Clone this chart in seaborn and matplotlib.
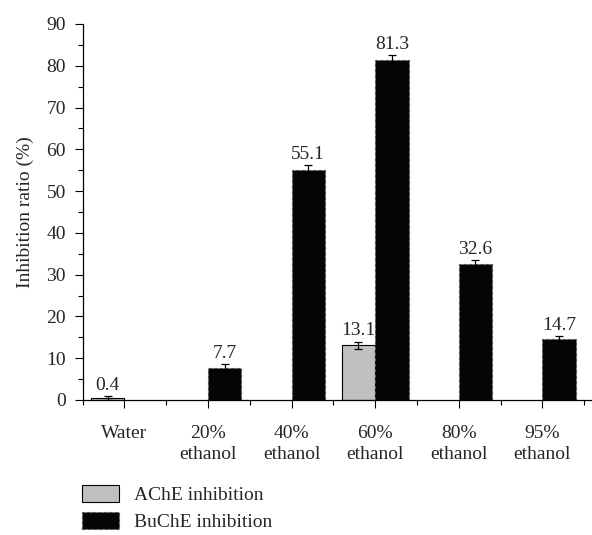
import numpy as np
import pandas as pd
import matplotlib
matplotlib.use("Agg")
import matplotlib.pyplot as plt
from matplotlib.patches import Patch
from matplotlib.ticker import MultipleLocator
import seaborn as sns

# values
groups = ["Water", "20%\nethanol", "40%\nethanol", "60%\nethanol", "80%\nethanol", "95%\nethanol"]
enzymes = ["AChE inhibition", "BuChE inhibition"]
ache = [0.4, np.nan, np.nan, 13.1, np.nan, np.nan]
ache_err = [0.5, np.nan, np.nan, 0.9, np.nan, np.nan]
buche = [np.nan, 7.7, 55.1, 81.3, 32.6, 14.7]
buche_err = [np.nan, 1.0, 1.2, 1.3, 1.0, 0.7]

colors = {"AChE inhibition": "#c0c0c0", "BuChE inhibition": "#050505"}
FS = 14

df = pd.DataFrame({
    "group": groups * 2,
    "enzyme": [enzymes[0]] * len(groups) + [enzymes[1]] * len(groups),
    "value": ache + buche,
    "err": ache_err + buche_err,
}).dropna()

sns.set_theme(style="ticks")
plt.rcParams["font.family"] = ["Liberation Serif", "DejaVu Serif"]
plt.rcParams["font.size"] = FS

fig = plt.figure(figsize=(5.92, 5.35), dpi=100)
ax = fig.add_axes([82.5 / 592, 135 / 535, 510 / 592, 376 / 535])

sns.barplot(data=df, x="group", y="value", hue="enzyme", order=groups,
            hue_order=enzymes, palette=colors, width=0.8, errorbar=None,
            edgecolor="black", linewidth=0.8, legend=False, ax=ax)

# error bars and value labels, matched to each bar by position
lookup = {(g, e): (v, s) for g, e, v, s in df[["group", "enzyme", "value", "err"]].itertuples(index=False)}
for patch in ax.patches:
    h = patch.get_height()
    if h == 0 or np.isnan(h):
        continue
    cx = patch.get_x() + patch.get_width() / 2
    gi = int(round(cx))
    enz = enzymes[0] if cx < gi else enzymes[1]
    if (groups[gi], enz) not in lookup:
        continue
    v, s = lookup[(groups[gi], enz)]
    if enz == enzymes[1]:
        patch.set_edgecolor("#555555")
        patch.set_linestyle((0, (3, 2)))
    ax.errorbar(cx, v, yerr=s, fmt="none", ecolor="black", elinewidth=0.9,
                capsize=3, capthick=0.9, zorder=5)
    ax.annotate(f"{v:.1f}", (cx, v + s), xytext=(0, 1.5), textcoords="offset points",
                ha="center", va="bottom", fontsize=FS)

ax.set_xlim(-0.5, 5.6)
ax.set_ylim(0, 90)
ax.yaxis.set_major_locator(MultipleLocator(10))
ax.yaxis.set_minor_locator(MultipleLocator(5))
ax.set_xticks(np.arange(-0.5, 6, 1), minor=True)
ax.set_xlabel("")
ax.set_ylabel("Inhibition ratio (%)", fontsize=FS, labelpad=9)
ax.tick_params(axis="both", which="major", length=6, width=0.8, labelsize=FS, color="black")
ax.tick_params(axis="both", which="minor", length=3.5, width=0.8, color="black")
ax.tick_params(axis="x", which="major", pad=12)
ax.tick_params(axis="y", which="major", pad=6)
for lbl in ax.get_xticklabels():
    lbl.set_linespacing(1.3)
sns.despine(ax=ax)
for sp in ["left", "bottom"]:
    ax.spines[sp].set_linewidth(0.9)
    ax.spines[sp].set_color("black")

handles = [Patch(facecolor=colors[enzymes[0]], edgecolor="black", linewidth=0.8),
           Patch(facecolor=colors[enzymes[1]], edgecolor="#555555", linewidth=0.8, linestyle=(0, (3, 2)))]
fig.legend(handles, enzymes, loc="upper left", bbox_to_anchor=(82 / 592, 1 - 485 / 535),
           frameon=False, fontsize=FS, handlelength=1.9, handleheight=0.95,
           handletextpad=0.75, labelspacing=0.4, borderpad=0, borderaxespad=0)

fig.savefig("out.png", dpi=100)
